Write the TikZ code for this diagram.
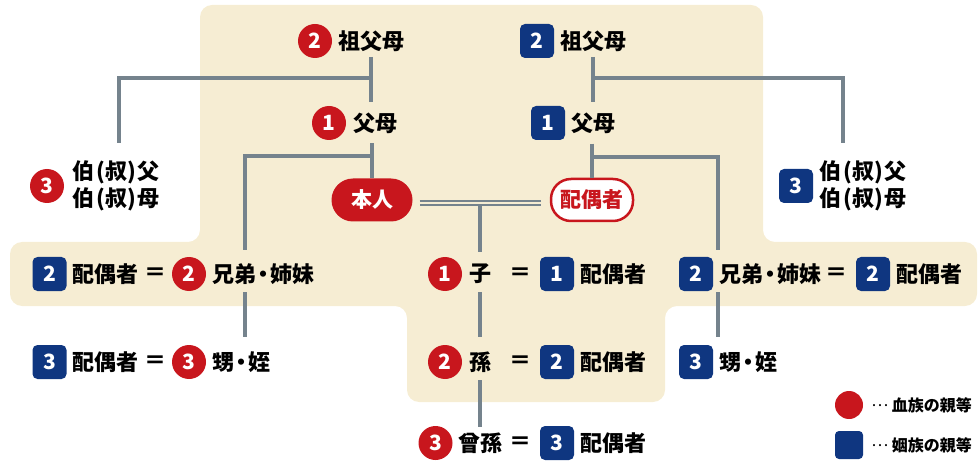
\documentclass[tikz,border=0pt]{standalone}
\usepackage{fontspec}
\setmainfont{Noto Sans CJK JP}
\usepackage{tikz}
\usetikzlibrary{positioning,calc}
\definecolor{ketsu}{HTML}{C8161D}
\definecolor{inzoku}{HTML}{0F3680}
\definecolor{sen}{HTML}{75838D}
\definecolor{haikei}{HTML}{F6EDD3}
\newcommand\nakaten{\kern-4pt・\kern-4pt}
\newcommand\oji[1]{伯\kern2pt(叔)\kern2pt#1}
\newcommand\tensen{\raisebox{5pt}{…}}

\begin{document}
\begin{tikzpicture}[x=1pt,y=-1pt,
  blood/.style={circle,fill=ketsu,text=white,minimum size=34pt,inner sep=0pt,font=\bfseries\fontsize{21}{21}\selectfont},
  inlaw/.style={rectangle,rounded corners=5pt,fill=inzoku,text=white,minimum size=34pt,inner sep=0pt,font=\bfseries\fontsize{21}{21}\selectfont},
  kin/.style={inner sep=0pt,font=\bfseries\fontsize{22}{27}\selectfont},
  link/.style={draw=sen,line width=4pt}]
\useasboundingbox (0,0) rectangle (979,462);
\fill[haikei,rounded corners=12pt]
(200,5) -- (763,5) -- (763,242) -- (977,242) -- (977,306) -- (665,306) -- (665,402)
-- (407,402) -- (407,306) -- (10,306) -- (10,242) -- (200,242) -- cycle;

% top: grandparents and parents
\node[blood] (sofuLn) at (315,41) {2};
\node[kin,right=6pt of sofuLn] (sofuL) {祖父母};
\node[blood] (fuboLn) at (329,123) {1};
\node[kin,right=7pt of fuboLn] (fuboL) {父母};
\node[inlaw] (sofuRn) at (537,41) {2};
\node[kin,right=6pt of sofuRn] (sofuR) {祖父母};
\node[inlaw] (fuboRn) at (548,123) {1};
\node[kin,right=6pt of fuboRn] (fuboR) {父母};

% uncles and aunts
\node[blood] (ojiLn) at (47,186) {3};
\node[kin,right=8pt of ojiLn,align=left] (ojiL) {\oji{父}\\\oji{母}};
\node[inlaw] (ojiRn) at (796,186) {3};
\node[kin,right=6pt of ojiRn,align=left] (ojiR) {\oji{父}\\\oji{母}};

% self and spouse
\node[fill=ketsu,text=white,rounded corners=21.5pt,minimum width=81pt,minimum height=43pt,
  inner sep=0pt,font=\bfseries\fontsize{21}{21}\selectfont] (honnin) at (372,200) {本人};
\node[draw=ketsu,line width=2.5pt,fill=white,text=ketsu,rounded corners=20pt,minimum width=82pt,
  minimum height=42pt,inner sep=0pt,font=\bfseries\fontsize{21}{21}\selectfont] (haigu) at (592,200) {配偶者};

% band row
\node[inlaw] (haiguBLn) at (49.5,274) {2};
\node[kin,right=6pt of haiguBLn] (haiguBL) {配偶者};
\node[kin] (eqBL) at (155,274) {＝};
\node[blood] (kyodaiLn) at (189,274) {2};
\node[kin,right=6pt of kyodaiLn] (kyodaiL) {兄弟\nakaten 姉妹};
\node[blood] (kon) at (445,274) {1};
\node[kin,right=7pt of kon] (ko) {子};
\node[kin] (eqKo) at (520,274) {＝};
\node[inlaw] (haiguKon) at (557,274) {1};
\node[kin,right=6pt of haiguKon] (haiguKo) {配偶者};
\node[inlaw] (kyodaiRn) at (696,274) {2};
\node[kin,right=6pt of kyodaiRn] (kyodaiR) {兄弟\nakaten 姉妹};
\node[kin] (eqBR) at (836,274) {＝};
\node[inlaw] (haiguBRn) at (873,274) {2};
\node[kin,right=6pt of haiguBRn] (haiguBR) {配偶者};

% nephew row
\node[inlaw] (haiguOLn) at (49.5,362) {3};
\node[kin,right=6pt of haiguOLn] (haiguOL) {配偶者};
\node[kin] (eqOL) at (155,362) {＝};
\node[blood] (oiLn) at (189,362) {3};
\node[kin,right=6pt of oiLn] (oiL) {甥\nakaten 姪};
\node[blood] (magon) at (445,362) {2};
\node[kin,right=7pt of magon] (mago) {孫};
\node[kin] (eqMago) at (520,362) {＝};
\node[inlaw] (haiguMagon) at (557,362) {2};
\node[kin,right=6pt of haiguMagon] (haiguMago) {配偶者};
\node[inlaw] (oiRn) at (696,362) {3};
\node[kin,right=6pt of oiRn] (oiR) {甥\nakaten 姪};

% great-grandchild row
\node[blood] (himagon) at (435.5,443) {3};
\node[kin,right=6pt of himagon] (himago) {曾孫};
\node[kin] (eqHimago) at (520,443) {＝};
\node[inlaw] (haiguHimagon) at (557,443) {3};
\node[kin,right=6pt of haiguHimagon] (haiguHimago) {配偶者};

% legend
\node[blood,minimum size=28pt] (keyBlood) at (849,405) {};
\node[right=8pt of keyBlood,inner sep=0pt,font=\fontsize{16}{16}\selectfont] (keyBloodT) {\tensen\ \textbf{血族の親等}};
\node[inlaw,minimum size=28pt,rounded corners=4pt] (keyInlaw) at (849,445) {};
\node[right=8pt of keyInlaw,inner sep=0pt,font=\fontsize{16}{16}\selectfont] (keyInlawT) {\tensen\ \textbf{姻族の親等}};

% lines
\draw[link] ($(sofuL.center)+(0,16)$) -- ($(sofuL.center |- fuboLn.center)+(0,-21)$);
\draw[link] ($(sofuL.center)+(0,37)$) -| ($(ojiL.center)+(3,-43)$);
\draw[link] ($(honnin.north)+(0,-35)$) -- (honnin.north);
\draw[link] ($(honnin.north)+(0,-22)$) -| ($(kyodaiLn.center)+(56,-24)$);
\draw[link] ($(kyodaiLn.center)+(56,18)$) -- ($(oiLn.center)+(56,-25)$);
\draw[link] ($(sofuR.center)+(0,16)$) -- ($(sofuR.center |- fuboRn.center)+(0,-21)$);
\draw[link] ($(sofuR.center)+(0,37)$) -| ($(ojiR.center)+(-20,-43)$);
\draw[link] ($(haigu.north)+(0,-34)$) -- (haigu.north);
\draw[link] ($(haigu.north)+(0,-21)$) -| ($(kyodaiRn.center)+(22,-24)$);
\draw[link] ($(kyodaiRn.center)+(22,18)$) -- ($(oiRn.center)+(22,-25)$);
\draw[draw=sen,line width=1.8pt,double=haikei,double distance=2.4pt,shorten <=7pt,shorten >=9pt]
  ([yshift=-3pt]honnin.east) -- ([yshift=-3pt]haigu.west);
\draw[link] ($(ko.center |- honnin.center)+(0,5)$) -- ($(ko.center)+(0,-22)$);
\draw[link] ($(ko.center)+(0,18)$) -- ($(mago.center)+(0,-25)$);
\draw[link] ($(mago.center)+(0,18)$) -- ($(mago.center |- himago.center)+(0,-16)$);
\end{tikzpicture}
\end{document}
